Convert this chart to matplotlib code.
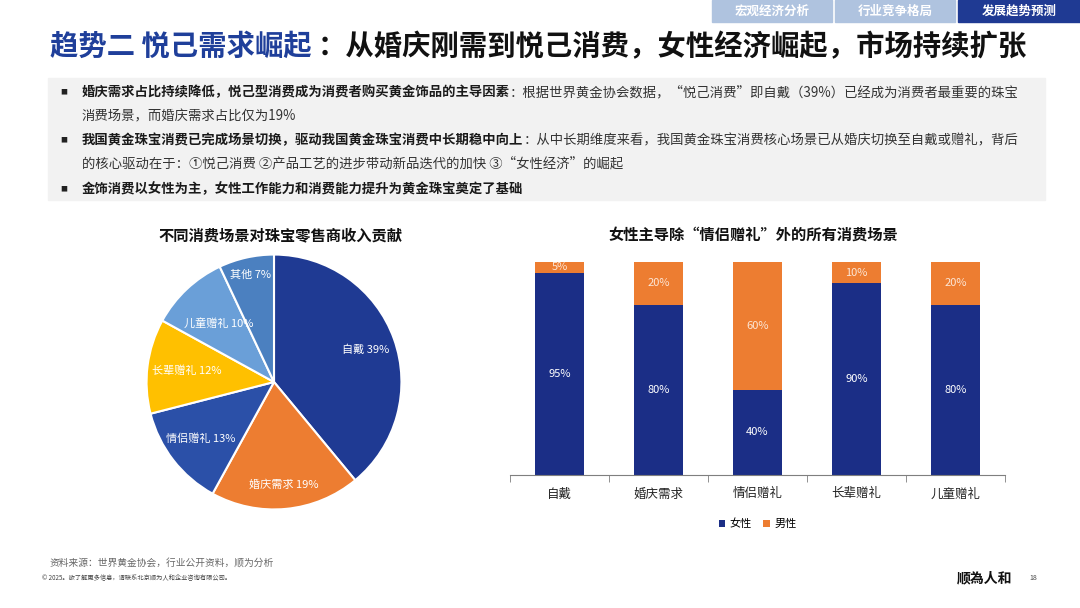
import numpy as np
import matplotlib.pyplot as plt
from matplotlib.patches import Rectangle

plt.rcParams['font.family'] = ['Noto Sans CJK SC', 'DejaVu Sans']

# ---- data ----
pie_labels = ['自戴', '婚庆需求', '情侣赠礼', '长辈赠礼', '儿童赠礼', '其他']
pie_values = [39, 19, 13, 12, 10, 7]
pie_colors = ['#1F3A93', '#ED7D31', '#2B50A8', '#FFC000', '#6A9FD8', '#4B80C0']
pie_label_r = [0.76, 0.81, 0.73, 0.69, 0.63, 0.86]

bar_cats = ['自戴', '婚庆需求', '情侣赠礼', '长辈赠礼', '儿童赠礼']
female = [95, 80, 40, 90, 80]
male = [5, 20, 60, 10, 20]

tabs = ['宏观经济分析', '行业竞争格局', '发展趋势预测']

W, H = 1080, 608
NAVY = '#1B2E86'
ORANGE = '#ED7D31'

fig = plt.figure(figsize=(W / 100, H / 100), dpi=100)

# background axes in pixel coordinates (y downward)
bg = fig.add_axes([0, 0, 1, 1])
bg.set_xlim(0, W)
bg.set_ylim(H, 0)
bg.axis('off')

# header tabs
tab_x = [712, 835, 958]
tab_w = [120, 120, 122]
for i, t in enumerate(tabs):
    col = '#1F3A93' if i == 2 else '#AFC3DF'
    bg.add_patch(Rectangle((tab_x[i], 0), tab_w[i], 22, color=col, zorder=0))
    bg.text(tab_x[i] + tab_w[i] / 2, 11, t, ha='center', va='center',
            fontsize=9, color='white', fontweight='bold')

# title
t1 = bg.text(50, 47, '趋势二 悦己需求崛起 ', fontsize=20.4, fontweight='bold',
             color='#1F3F9A', va='center')
bg.annotate('：从婚庆刚需到悦己消费，女性经济崛起，市场持续扩张', xy=(1, 0.5),
            xycoords=t1, va='center', ha='left', fontsize=20.4, fontweight='bold',
            color='#111111', annotation_clip=False)

# gray text box
bg.add_patch(Rectangle((48, 78), 997, 122, color='#F2F2F2', zorder=0))

bullets = [
    ('婚庆需求占比持续降低，悦己型消费成为消费者购买黄金饰品的主导因素',
     '：根据世界黄金协会数据，“悦己消费”即自戴（39%）已经成为消费者最重要的珠宝',
     '消费场景，而婚庆需求占比仅为19%', 92, 116),
    ('我国黄金珠宝消费已完成场景切换，驱动我国黄金珠宝消费中长期稳中向上',
     '：从中长期维度来看，我国黄金珠宝消费核心场景已从婚庆切换至自戴或赠礼，背后',
     '的核心驱动在于：①悦己消费 ②产品工艺的进步带动新品迭代的加快 ③“女性经济”的崛起', 140, 164),
    ('金饰消费以女性为主，女性工作能力和消费能力提升为黄金珠宝奠定了基础', '', '', 189, None),
]
for bold, rest, line2, y1, y2 in bullets:
    bg.text(60, y1, '■', fontsize=5, color='#222222', va='center')
    tb = bg.text(82, y1, bold, fontsize=9.6, fontweight='bold',
                 color='#1A1A1A', va='center')
    if rest:
        bg.annotate(rest, xy=(1, 0.5), xycoords=tb, va='center', ha='left',
                    fontsize=9.6, color='#333333', annotation_clip=False)
    if line2:
        bg.text(82, y2, line2, fontsize=9.6, color='#333333', va='center')

# ---- pie chart ----
bg.text(280, 235, '不同消费场景对珠宝零售商收入贡献', fontsize=11,
        fontweight='bold', ha='center', va='center', color='#111111')
axp = fig.add_axes([144 / W, 96 / H, 260 / W, 260 / H])
wedges, _ = axp.pie(pie_values, colors=pie_colors, startangle=90, counterclock=False,
                    wedgeprops=dict(edgecolor='white', linewidth=1.5))
axp.set_xlim(-1.02, 1.02)
axp.set_ylim(-1.02, 1.02)
axp.set_aspect('equal')
for w, lab, v, r in zip(wedges, pie_labels, pie_values, pie_label_r):
    ang = np.deg2rad((w.theta1 + w.theta2) / 2)
    axp.text(r * np.cos(ang), r * np.sin(ang), f'{lab} {v}%', ha='center', va='center',
             fontsize=8, color='white')

# ---- stacked bar chart ----
bg.text(753, 235, '女性主导除“情侣赠礼”外的所有消费场景', fontsize=11,
        fontweight='bold', ha='center', va='center', color='#111111')
axb = fig.add_axes([510 / W, 133 / H, 495 / W, 213 / H])
x = np.arange(len(bar_cats))
axb.bar(x, female, width=0.49, color=NAVY, label='女性')
axb.bar(x, male, width=0.49, bottom=female, color=ORANGE, label='男性')
for i in range(len(x)):
    axb.text(x[i], female[i] / 2, f'{female[i]}%', ha='center', va='center',
             fontsize=8, color='white')
    axb.text(x[i], female[i] + male[i] / 2, f'{male[i]}%', ha='center', va='center',
             fontsize=8, color='#FCE6D6')
axb.set_xlim(-0.5, len(x) - 0.5)
axb.set_ylim(0, 100)
for s in ['top', 'right', 'left']:
    axb.spines[s].set_visible(False)
axb.spines['bottom'].set_color('#7F7F7F')
axb.set_yticks([])
axb.set_xticks(x)
axb.set_xticklabels(bar_cats, fontsize=9, color='#222222')
axb.tick_params(axis='x', which='major', length=0, pad=9)
axb.set_xticks(np.arange(-0.5, len(x)), minor=True)
axb.tick_params(axis='x', which='minor', length=5, color='#7F7F7F')
axb.legend(loc='center', bbox_to_anchor=(0.5, -0.23), ncol=2, frameon=False,
           fontsize=8, handlelength=0.6, handleheight=0.6, columnspacing=1.0,
           handletextpad=0.4)

# ---- footer ----
bg.text(50, 563, '资料来源：世界黄金协会，行业公开资料，顺为分析', fontsize=7,
        color='#666666', va='center')
bg.text(42, 578, '© 2025。欲了解更多信息，请联系北京顺为人和企业咨询有限公司。',
        fontsize=4.5, color='#444444', va='center')
bg.text(985, 578, '顺為人和', fontsize=10, fontweight='bold', color='#111111',
        ha='center', va='center')
bg.text(1033, 578, '18', fontsize=5, color='#444444', ha='center', va='center')

fig.savefig('out.png', dpi=100)
